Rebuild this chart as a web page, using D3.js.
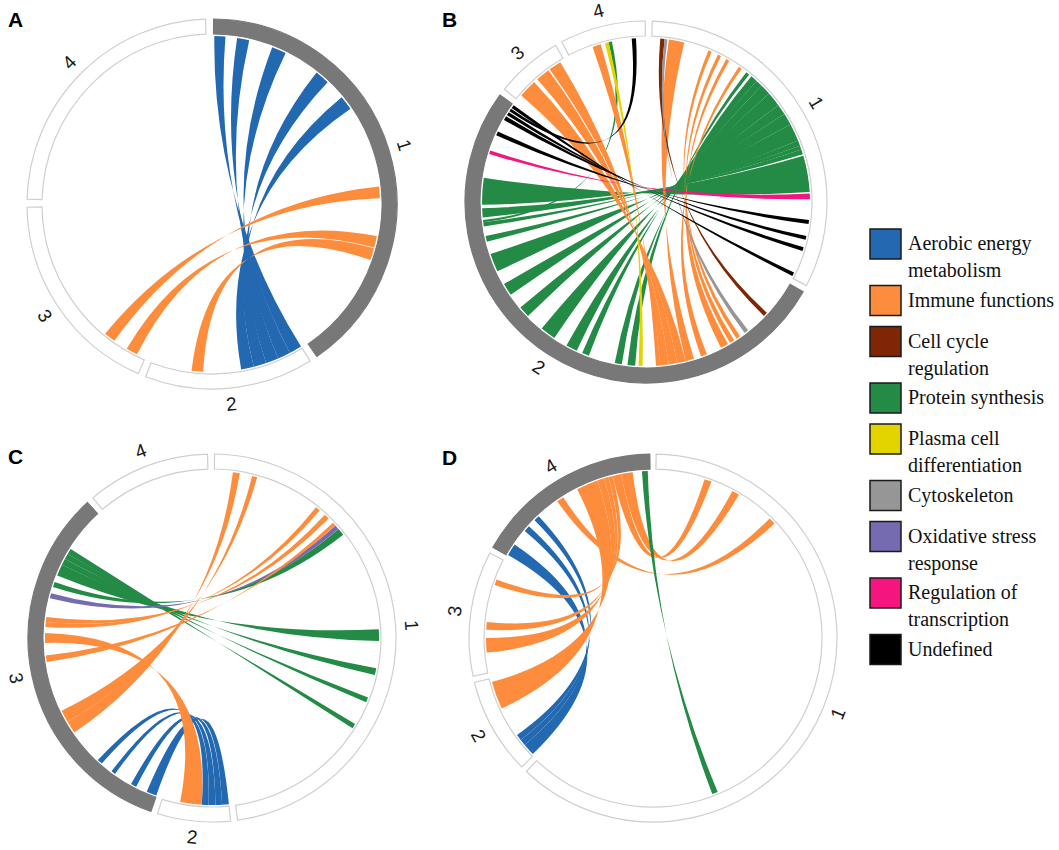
<!DOCTYPE html>
<html>
<head>
<meta charset="utf-8">
<script src="https://cdn.jsdelivr.net/npm/d3@7"></script>
<style>
  body { margin: 0; background: #fff; }
  svg { display: block; }
</style>
</head>
<body>
<div id="chart"></div>
<script>
// functional categories (key + legend text)
const categories = ["AE", "IM", "CC", "PS", "PC", "CY", "OX", "RT", "UN"];
const categoryLabels = [
  ["Aerobic energy", "metabolism"],
  ["Immune functions"],
  ["Cell cycle", "regulation"],
  ["Protein synthesis"],
  ["Plasma cell", "differentiation"],
  ["Cytoskeleton"],
  ["Oxidative stress", "response"],
  ["Regulation of", "transcription"],
  ["Undefined"]
];
const sectorNames = ["1", "2", "3", "4"];

// sector lengths (track units) per panel
const sizesA = [145, 53, 65.5, 86.5];
const sizesB = [115.5, 186.5, 21.5, 27.5];
const sizesC = [171.2, 23, 118, 39];
const sizesD = [222.5, 30.5, 39.5, 59.5];

// links: [fromSector, fromStart, fromEnd, toSector, toStart, toEnd, category]
const linksA = [
  [1, 0.3, 4.1, 2, 0, 4.4, "AE"],
  [1, 8.1, 12.3, 2, 4.4, 8.8, "AE"],
  [1, 20.5, 25.5, 2, 8.8, 13.2, "AE"],
  [1, 38, 43, 2, 13.2, 17.6, "AE"],
  [1, 50, 55, 2, 17.6, 22, "AE"],
  [1, 83.5, 87.5, 3, 12, 16, "IM"],
  [1, 100.5, 104.5, 3, 3, 7, "IM"],
  [1, 104.8, 109, 2, 35, 39, "IM"]
];

const linksB = [
  [1, 35.7, 37, 2, 64.05, 66.75, "PS"],
  [1, 38, 40.4, 2, 68.75, 71.25, "PS"],
  [1, 40.4, 42.8, 2, 80.65, 83.15, "PS"],
  [1, 42.8, 46.6, 2, 85.25, 89.25, "PS"],
  [1, 46.6, 51.8, 2, 94.25, 99.75, "PS"],
  [1, 51.8, 55.6, 2, 106.25, 110.25, "PS"],
  [1, 55.6, 59.8, 2, 115.85, 120.25, "PS"],
  [1, 59.8, 66, 2, 125.25, 131.75, "PS"],
  [1, 66, 67.9, 2, 136.25, 138.25, "PS"],
  [1, 67.9, 69.3, 2, 141.65, 143.15, "PS"],
  [1, 69.3, 71.1, 2, 144.85, 148.05, "PS"],
  [1, 71.6, 84.5, 2, 149.25, 158.75, "PS"],
  [4, 14.55, 15.75, 2, 143.15, 143.95, "PS"],
  [1, 6, 11.5, 2, 43.25, 46.25, "IM"],
  [3, 2, 8.5, 2, 46.25, 49.25, "IM"],
  [3, 10, 15, 2, 49.25, 52.25, "IM"],
  [3, 15.5, 20, 2, 52.25, 55.25, "IM"],
  [4, 8.75, 11.75, 2, 55.25, 56.75, "IM"],
  [1, 20.4, 21.6, 2, 25.25, 26.75, "IM"],
  [1, 24, 25.2, 2, 27.75, 29.45, "IM"],
  [1, 27.3, 28.5, 2, 30.25, 33.05, "IM"],
  [1, 32.5, 33.7, 2, 38.45, 40.65, "IM"],
  [1, 3, 4.5, 2, 12.75, 14.25, "CC"],
  [1, 4.5, 5.5, 2, 21.75, 23.25, "CY"],
  [4, 13.25, 14.55, 2, 61.45, 62.85, "PC"],
  [1, 85, 87, 2, 167.25, 168.55, "RT"],
  [1, 94.3, 95.7, 2, 174.25, 175.75, "UN"],
  [1, 100, 101.3, 2, 180.25, 181.75, "UN"],
  [1, 104, 105.4, 2, 182.25, 183.45, "UN"],
  [1, 113.5, 114.8, 2, 185.25, 186.45, "UN"],
  [4, 22.75, 24.25, 2, 183.85, 184.85, "UN"]
];

const linksC = [
  [3, 0.1, 3.6, 2, 0, 2.3, "AE"],
  [3, 7.6, 9.6, 2, 2.3, 4.6, "AE"],
  [3, 16.1, 17.6, 2, 4.6, 6.95, "AE"],
  [3, 21.9, 23.7, 2, 6.95, 9.3, "AE"],
  [3, 92.6, 96.6, 1, 86.2, 90.2, "PS"],
  [3, 96.6, 98.8, 1, 99.6, 102, "PS"],
  [3, 98.8, 100.8, 1, 110.1, 111.8, "PS"],
  [3, 100.8, 102.8, 1, 120.2, 121.9, "PS"],
  [3, 88.4, 90.2, 1, 48.5, 51, "PS"],
  [3, 84.4, 86.1, 1, 46.9, 48.4, "OX"],
  [3, 74.4, 76.1, 1, 37.7, 39.4, "IM"],
  [3, 76.1, 77.8, 1, 41.7, 43.5, "IM"],
  [3, 62.3, 64.6, 1, 45.6, 46.8, "IM"],
  [3, 36.1, 40.5, 1, 6.4, 8.8, "IM"],
  [3, 40.5, 44.8, 1, 13.1, 14.9, "IM"],
  [3, 68.9, 72.3, 2, 9.3, 16.8, "IM"]
];

const linksD = [
  [4, 0.3, 4.5, 2, 0.5, 4.7, "AE"],
  [4, 10.3, 12.5, 2, 4.7, 6.9, "AE"],
  [4, 15.3, 17.3, 2, 6.9, 9, "AE"],
  [4, 33.5, 41, 2, 19.5, 29.2, "IM"],
  [4, 41, 43.5, 3, 7, 12, "IM"],
  [4, 43.5, 45, 3, 14.8, 17.5, "IM"],
  [4, 45, 46.5, 3, 30.5, 32.5, "IM"],
  [4, 46.5, 49.5, 1, 17, 19.5, "IM"],
  [4, 49.5, 53.5, 1, 27.4, 30, "IM"],
  [4, 25.5, 28, 1, 43.3, 45.7, "IM"],
  [4, 56.7, 58.7, 1, 156.2, 158.2, "PS"]
];

const width = 1059, height = 850;
const svg = d3.select("#chart").append("svg")
  .attr("width", width)
  .attr("height", height);

const color = d3.scaleOrdinal()
  .domain(categories)
  .range(["#2369b1", "#fd8d3c", "#7f2704", "#238b45", "#e3d400",
          "#969696", "#756bb1", "#f5157f", "#000000"]);

// track units -> radians (0 at top, clockwise)
const angle = d3.scaleLinear().domain([0, 360]).range([0, 2 * Math.PI]);
const halfPi = Math.PI / 2;

const panels = [
  { letter: "A", sizes: sizesA, links: linksA, hi: 1, cx: 212, cy: 204, r: 185, start: 0.5, gap: 2.5, lx: 8, ly: 27 },
  { letter: "B", sizes: sizesB, links: linksB, hi: 2, cx: 646, cy: 202, r: 181, start: 2, gap: 2.25, lx: 442, ly: 27 },
  { letter: "C", sizes: sizesC, links: linksC, hi: 3, cx: 212, cy: 638, r: 184, start: 0.8, gap: 2.2, lx: 8, ly: 464 },
  { letter: "D", sizes: sizesD, links: linksD, hi: 4, cx: 653, cy: 638, r: 184, start: 1, gap: 2, lx: 442, ly: 465 }
];

// circos-style link: both ends joined start-to-start and end-to-end,
// so the ribbon twists and pinches where the two borders cross
function twistedLink(r, s0, s1, t0, t1) {
  const p = d3.path();
  const pt = a => [r * Math.sin(a), -r * Math.cos(a)];
  p.moveTo(...pt(s0));
  p.arc(0, 0, r, s0 - halfPi, s1 - halfPi, false);
  p.quadraticCurveTo(0, 0, ...pt(t1));
  p.arc(0, 0, r, t1 - halfPi, t0 - halfPi, true);
  p.quadraticCurveTo(0, 0, ...pt(s0));
  p.closePath();
  return p.toString();
}

panels.forEach(drawPanel);

function drawPanel(p) {
  const g = svg.append("g").attr("transform", `translate(${p.cx},${p.cy})`);

  const starts = [];
  let acc = p.start;
  p.sizes.forEach(s => { starts.push(acc); acc += s + p.gap; });

  const ring = d3.arc().innerRadius(p.r - 15).outerRadius(p.r);

  g.selectAll("path.sector")
    .data(p.sizes)
    .join("path")
    .attr("class", "sector")
    .attr("d", (s, i) => ring({ startAngle: angle(starts[i]), endAngle: angle(starts[i] + s) }))
    .attr("fill", (s, i) => i + 1 === p.hi ? "#787878" : "#fff")
    .attr("stroke", (s, i) => i + 1 === p.hi ? "#787878" : "#cfcfcf")
    .attr("stroke-width", 1.2);

  const pos = (sec, v) => angle(starts[sec - 1] + v);

  g.selectAll("path.link")
    .data(p.links)
    .join("path")
    .attr("class", "link")
    .attr("d", l => twistedLink(p.r - 17, pos(l[0], l[1]), pos(l[0], l[2]), pos(l[3], l[4]), pos(l[3], l[5])))
    .attr("fill", l => color(l[6]));

  g.selectAll("text.sname")
    .data(p.sizes)
    .join("text")
    .attr("class", "sname")
    .attr("transform", (s, i) => {
      const mid = starts[i] + s / 2;
      const a = angle(mid), rr = p.r + 16;
      const rot = (mid > 90 && mid < 270) ? mid - 180 : mid;
      return `translate(${rr * Math.sin(a)},${-rr * Math.cos(a)}) rotate(${rot})`;
    })
    .attr("text-anchor", "middle")
    .attr("dominant-baseline", "central")
    .style("font-family", "'Liberation Sans', Arial, sans-serif")
    .style("font-size", "19px")
    .attr("fill", "#1a1a1a")
    .text((s, i) => sectorNames[i]);

  svg.append("text")
    .attr("x", p.lx)
    .attr("y", p.ly)
    .style("font-family", "'Liberation Sans', Arial, sans-serif")
    .style("font-size", "21px")
    .style("font-weight", "bold")
    .attr("fill", "#000")
    .text(p.letter);
}

// legend
const legend = svg.append("g").attr("transform", "translate(870,229)");
let ly = 0;
categories.forEach((c, i) => {
  const item = legend.append("g").attr("transform", `translate(0,${ly})`);
  item.append("rect")
    .attr("width", 31).attr("height", 30)
    .attr("fill", color(c))
    .attr("stroke", "#1a1a1a")
    .attr("stroke-width", 1.5);
  categoryLabels[i].forEach((t, j) => {
    item.append("text")
      .attr("x", 38)
      .attr("y", 21 + j * 27)
      .style("font-family", "'Liberation Serif', 'Times New Roman', serif")
      .style("font-size", "20px")
      .attr("fill", "#111")
      .text(t);
  });
  ly += 41 + 15.5 * (categoryLabels[i].length - 1);
});
</script>
</body>
</html>
